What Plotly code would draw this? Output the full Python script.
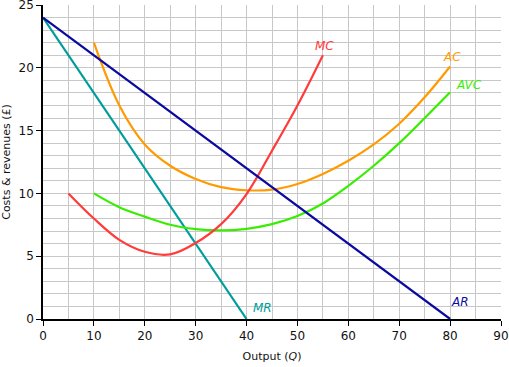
import plotly.graph_objects as go

# Data
ar_x = [0, 80]
ar_y = [24, 0]
mr_x = [0, 40]
mr_y = [24, 0]
mc_x = [5, 10, 15, 20, 25, 30, 35, 40, 45, 50, 55]
mc_y = [10, 8.0, 6.3, 5.35, 5.15, 6.05, 7.55, 9.95, 13.4, 17.0, 21.0]
ac_x = [10, 15, 20, 25, 30, 35, 40, 45, 50, 55, 60, 65, 70, 75, 80]
ac_y = [22, 17.0, 13.9, 12.2, 11.15, 10.5, 10.25, 10.3, 10.75, 11.55, 12.6, 13.9, 15.55, 17.65, 20.1]
avc_x = [10, 15, 20, 25, 30, 35, 40, 45, 50, 55, 60, 65, 70, 75, 80]
avc_y = [10, 8.9, 8.15, 7.5, 7.16, 7.05, 7.18, 7.55, 8.2, 9.2, 10.6, 12.2, 14.0, 16.0, 18.05]

x_ticks = [0, 10, 20, 30, 40, 50, 60, 70, 80, 90]
y_ticks = [0, 5, 10, 15, 20, 25]

FONT = "DejaVu Sans"
C_AR = "#0a0aa0"
C_MR = "#009c9c"
C_MC = "#ff3b3b"
C_AC = "#ff9a00"
C_AVC = "#38ee00"

fig = go.Figure()

def add(x, y, color, shape="linear"):
    fig.add_trace(go.Scatter(x=x, y=y, mode="lines",
                             line=dict(color=color, width=2.2, shape=shape, smoothing=1.0),
                             hoverinfo="skip", showlegend=False, cliponaxis=False))

add(mr_x, mr_y, C_MR)
add(avc_x, avc_y, C_AVC, "spline")
add(ac_x, ac_y, C_AC, "spline")
add(mc_x, mc_y, C_MC, "spline")
add(ar_x, ar_y, C_AR)

labels = [
    ("MC", 55.4, 21.7, C_MC),
    ("AC", 80.3, 20.9, C_AC),
    ("AVC", 83.8, 18.6, C_AVC),
    ("MR", 43.2, 0.85, C_MR),
    ("AR", 81.9, 1.35, C_AR),
]
for t, x, y, c in labels:
    fig.add_annotation(x=x, y=y, text="<i>%s</i>" % t, showarrow=False,
                       font=dict(family=FONT, size=12, color=c))

grid_c = "#c8c8c8"
fig.update_layout(
    width=509, height=367,
    margin=dict(l=43, r=8, t=5, b=48, autoexpand=False),
    paper_bgcolor="white", plot_bgcolor="white",
    font=dict(family=FONT, size=12, color="#111"),
    xaxis=dict(range=[0, 90], tickvals=x_ticks, showgrid=True, gridcolor=grid_c, gridwidth=1,
               minor=dict(dtick=5, showgrid=True, gridcolor=grid_c, gridwidth=1),
               showline=True, linecolor="black", linewidth=1.5, automargin=False,
               ticklabeloverflow="allow",
               ticks="outside", ticklen=5, tickcolor="black", zeroline=False,
               title=dict(text="Output (<i>Q</i>)", font=dict(size=11), standoff=10)),
    yaxis=dict(range=[0, 25], tickvals=y_ticks, showgrid=True, gridcolor=grid_c, gridwidth=1,
               minor=dict(dtick=1, showgrid=True, gridcolor=grid_c, gridwidth=1),
               showline=True, linecolor="black", linewidth=1.5, automargin=False,
               ticklabeloverflow="allow",
               ticks="outside", ticklen=5, tickcolor="black", zeroline=False,
               title=dict(text="Costs &amp; revenues (£)", font=dict(size=11), standoff=8)),
)

fig.write_html("out.html", config={"displayModeBar": False},
               post_script="document.body.style.margin='0';")
